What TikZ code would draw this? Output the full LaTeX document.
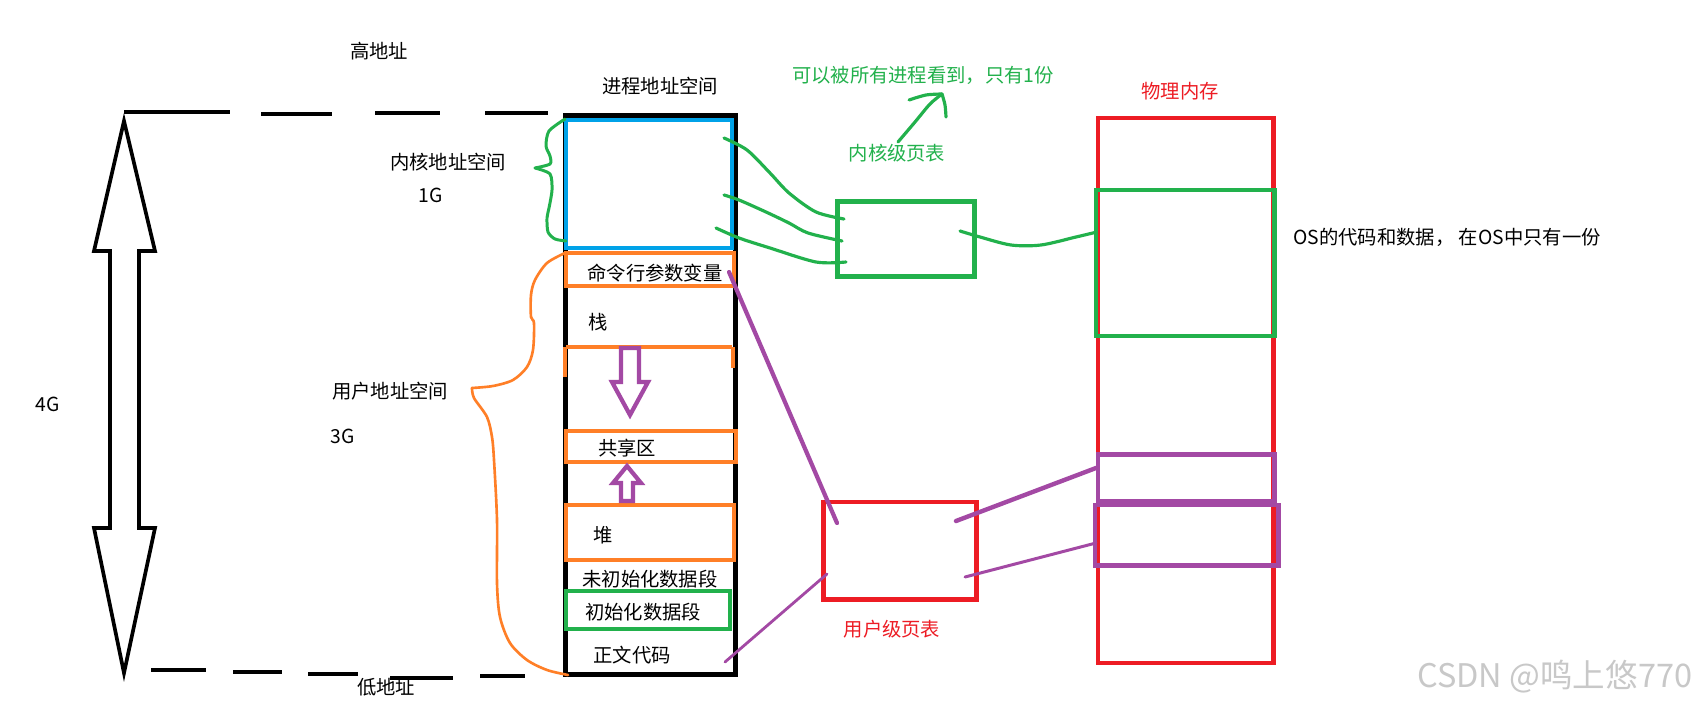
\documentclass[tikz,border=0pt]{standalone}
\usepackage{fontspec}
\newfontfamily\cjk{Noto Sans CJK SC}
\definecolor{pblue}{HTML}{00A2E8}
\definecolor{porange}{HTML}{FF7F27}
\definecolor{pgreen}{HTML}{22B14C}
\definecolor{pred}{HTML}{ED1C24}
\definecolor{ppurple}{HTML}{A349A4}
\definecolor{wmgray}{HTML}{C8C8C8}
\newcommand\pxbox[6]{\node[#6, inner sep=0pt, minimum width={(#4-#2)*0.02cm}, minimum height={(#5-#3)*0.02cm}] (#1) at ({(#2+#4)/2},{(#3+#5)/2}) {};}
\begin{document}
\begin{tikzpicture}[x=0.02cm,y=-0.02cm,
  lbl/.style={font=\cjk\fontsize{11}{13}\selectfont, inner sep=0pt},
  wmark/.style={font=\cjk\fontsize{18.5}{20}\selectfont, inner sep=0pt, text=wmgray},
  wA/.style={line width=2.83pt},
  wB/.style={line width=2.4pt},
  wC/.style={line width=1.8pt},
  wD/.style={line width=1.45pt},
  dashseg/.style={line width=2pt, black},
  hand/.style={line join=round, line cap=round},
]
\useasboundingbox[fill=white] (0,0) rectangle (1704,706);

% ---------- left: dashed limits and double arrow ----------
\coordinate (t1a) at (124,112); \coordinate (t1b) at (230,112);
\coordinate (t2a) at (261,114); \coordinate (t2b) at (332,114);
\coordinate (t3a) at (375,113); \coordinate (t3b) at (440,113);
\coordinate (t4a) at (485,113); \coordinate (t4b) at (548,113);
\draw[dashseg] (t1a) -- (t1b); \draw[dashseg] (t2a) -- (t2b);
\draw[dashseg] (t3a) -- (t3b); \draw[dashseg] (t4a) -- (t4b);
\coordinate (b1a) at (151,670); \coordinate (b1b) at (206,670);
\coordinate (b2a) at (233,672); \coordinate (b2b) at (282,672);
\coordinate (b3a) at (308,674); \coordinate (b3b) at (358,674);
\coordinate (b4a) at (390,678); \coordinate (b4b) at (453,678);
\coordinate (b5a) at (480,676); \coordinate (b5b) at (525,676);
\draw[dashseg] (b1a) -- (b1b); \draw[dashseg] (b2a) -- (b2b);
\draw[dashseg] (b3a) -- (b3b); \draw[dashseg] (b4a) -- (b4b);
\draw[dashseg] (b5a) -- (b5b);

\draw[line width=2.1pt, line join=miter] (124,121) -- (155,251) -- (139,251) -- (139,528) -- (155,528)
  -- (124,673) -- (94,528) -- (110,528) -- (110,251) -- (94,251) -- cycle;

\node[lbl] (high) at (379,51) {高地址};
\node[lbl] (low) at (386,687) {低地址};
\node[lbl] (fourg) at (48,404) {4G};
\node[lbl] (kspace) at (448,162) {内核地址空间};
\node[lbl] (oneg) at (431,195) {1G};
\node[lbl] (uspace) at (390,391) {用户地址空间};
\node[lbl] (threeg) at (343,436) {3G};

% ---------- process address space ----------
\node[lbl] (ptitle) at (660,86) {进程地址空间};
\pxbox{proc}{565.5}{115.5}{735.5}{674.5}{draw=black, wA}
\pxbox{kern}{566}{120}{732}{248}{draw=pblue, wA}
\pxbox{cmd}{566}{253}{734}{286}{draw=porange, wB}
\draw[porange, wB] (566,347) -- (732,347);
\draw[porange, wB] (565,347) -- (565,377);
\draw[porange, wC] (733,347) -- (733,368);
\pxbox{share}{566}{431}{736}{462}{draw=porange, wB}
\pxbox{heap}{566}{505}{734}{560}{draw=porange, wB}
\pxbox{init}{566}{591}{730}{629}{draw=pgreen, wA}

\node[lbl] (tcmd) at (655,273) {命令行参数变量};
\node[lbl] (tstack) at (598,322) {栈};
\node[lbl] (tshare) at (627,448) {共享区};
\node[lbl] (theap) at (603,535) {堆};
\node[lbl] (tbss) at (650,579) {未初始化数据段};
\node[lbl] (tinit) at (643,612) {初始化数据段};
\node[lbl] (ttext) at (632,655) {正文代码};

% hollow purple arrows
\draw[ppurple, wB, line join=miter] (621,348) -- (639,348) -- (639,382) -- (648,382) -- (630,415)
  -- (612,382) -- (621,382) -- cycle;
\draw[ppurple, wB, line join=miter] (627,466) -- (641,483) -- (633,483) -- (633,501) -- (621,501)
  -- (621,483) -- (613,483) -- cycle;

% braces
\draw[pgreen, line width=1.7pt, hand] plot[smooth, tension=0.45] coordinates {
  (565,119) (549,131) (546,146) (550,156) (550,164) (535,168)};
\draw[pgreen, line width=1.7pt, hand] plot[smooth, tension=0.45] coordinates {
  (535,168) (550,174) (552,190) (549,208) (547,218) (548,232) (555,239) (566,241)};
\draw[porange, line width=1.5pt, hand] plot[smooth, tension=0.5] coordinates {
  (565,253) (547,263) (535,280) (531,295) (531,317) (534,323) (533,350) (527,367)
  (513,380) (493,386) (472,388)};
\draw[porange, line width=1.5pt, hand] plot[smooth, tension=0.5] coordinates {
  (472,388) (474,398) (487,417) (492,437) (494,460) (497,520) (497,583) (500,617)
  (510,643) (527,660) (547,670) (568,675)};

% ---------- kernel page table ----------
\node[lbl, text=pgreen] (note) at (923,75) {可以被所有进程看到，只有1份};
\node[lbl, text=pgreen] (kptl) at (897,153) {内核级页表};
\pxbox{kpt}{837.5}{201.5}{974.5}{276.5}{draw=pgreen, wA}

\coordinate (c1s) at (724,138); \coordinate (c1e) at (844,219);
\coordinate (c2s) at (724,195); \coordinate (c2e) at (842,241);
\coordinate (c3s) at (716,228); \coordinate (c3e) at (846,262);
\coordinate (c4s) at (960,231); \coordinate (c4e) at (1097,232);
\draw[pgreen, wC, hand] plot[smooth] coordinates {(c1s) (747,150) (770,173) (789,193) (816,212) (c1e)};
\draw[pgreen, wC, hand] plot[smooth] coordinates {(c2s) (739,200) (766,212) (789,223) (808,233) (c2e)};
\draw[pgreen, wC, hand] plot[smooth] coordinates {(c3s) (739,238) (770,248) (816,262) (c3e)};
\draw[pgreen, wC, hand] plot[smooth] coordinates {(c4s) (980,237) (1011,245) (1041,245) (1076,237) (c4e)};

% green hand-drawn arrow to the note
\coordinate (ga) at (898,142); \coordinate (gt) at (942,94);
\draw[pgreen, wC, hand] plot[smooth] coordinates {(ga) (915,122) (930,104) (gt)};
\draw[pgreen, wC, hand] plot[smooth] coordinates {(909,100) (926,95) (gt)};
\draw[pgreen, wC, hand] plot[smooth] coordinates {(gt) (945,105) (946,117)};

% ---------- physical memory ----------
\node[lbl, text=pred] (physl) at (1180,91) {物理内存};
\pxbox{phys}{1098}{118}{1273}{663}{draw=pred, wA}
\pxbox{osbox}{1096}{190}{1274}{336}{draw=pgreen, wA}
\pxbox{pa}{1098}{454.5}{1274.5}{501}{draw=ppurple, wB}
\pxbox{pb}{1095}{505}{1278}{565.5}{draw=ppurple, wA}
\node[lbl, anchor=west] (osnote) at (1293,237) {OS的代码和数据， 在OS中只有一份};

% ---------- user page table ----------
\pxbox{upt}{823.5}{502}{976.5}{599.5}{draw=pred, wB}
\node[lbl, text=pred] (uptl) at (892,629) {用户级页表};

\coordinate (p1s) at (956,521); \coordinate (p1e) at (1096,468);
\coordinate (p2s) at (965,577); \coordinate (p2e) at (1096,543);
\coordinate (p3s) at (729,272); \coordinate (p3e) at (837,523);
\coordinate (p4s) at (725,662); \coordinate (p4e) at (827,574);
\draw[ppurple, line width=2.5pt, line cap=round] (p1s) -- (p1e);
\draw[ppurple, line width=1.7pt, line cap=round] (p2s) -- (p2e);
\draw[ppurple, line width=2.4pt, line cap=round] (p3s) -- (p3e);
\draw[ppurple, line width=1.6pt, line cap=round] (p4s) -- (p4e);

% watermark
\node[wmark, anchor=west] (wm) at (1417,677) {CSDN @鸣上悠770};
\end{tikzpicture}
\end{document}
